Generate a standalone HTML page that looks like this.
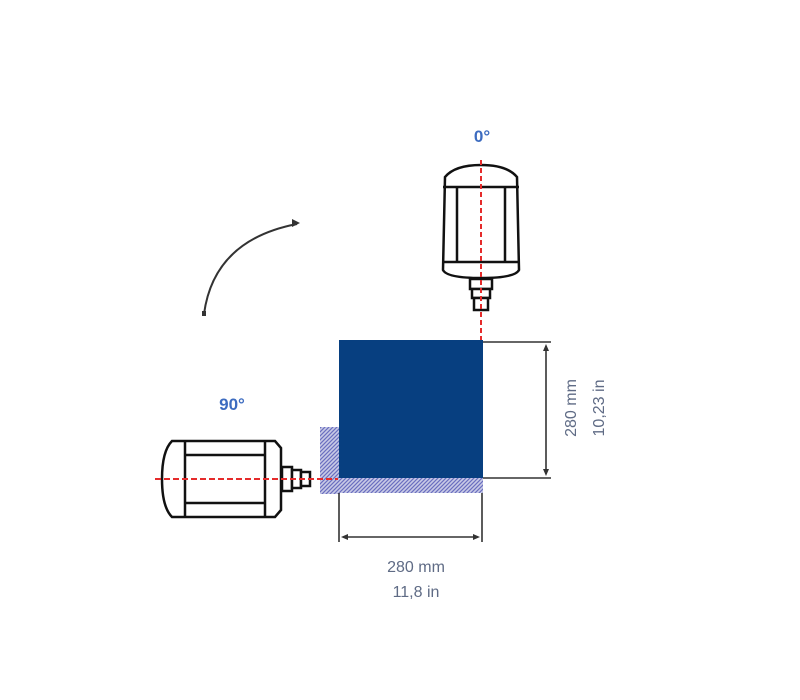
<!DOCTYPE html>
<html><head><style>
body{margin:0;background:#fff;}
svg{display:block;}
</style></head><body>
<svg width="800" height="700" viewBox="0 0 800 700" xmlns="http://www.w3.org/2000/svg" font-family="Liberation Sans, sans-serif">
<defs>
<pattern id="h" width="4" height="4" patternUnits="userSpaceOnUse">
<rect width="4" height="4" fill="#c9cbe6"/>
<path d="M0 4L4 0M-1 1L1 -1M3 5L5 3" stroke="#6a6ec0" stroke-width="1.2"/>
</pattern>
</defs>
<rect x="320" y="427" width="20" height="67" fill="url(#h)"/>
<rect x="339" y="478" width="144" height="15" fill="url(#h)"/>
<rect x="339" y="340" width="144" height="138" fill="#073f80"/>
<g stroke="#333" stroke-width="1.6" fill="none">
<line x1="483" y1="342" x2="551" y2="342"/>
<line x1="483" y1="478" x2="551" y2="478"/>
<line x1="546" y1="346" x2="546" y2="474"/>
<line x1="339" y1="493" x2="339" y2="542"/>
<line x1="482" y1="493" x2="482" y2="542"/>
<line x1="343" y1="537" x2="478" y2="537"/>
<path d="M204 314 Q214 240 297 224" stroke-width="2"/>
</g>
<g fill="#333">
<path d="M546 344l-3 7h6z"/><path d="M546 476l-3 -7h6z"/>
<path d="M341 537l7 -3v6z"/><path d="M480 537l-7 -3v6z"/>
<path d="M300 223l-8 -4v8z"/>
<rect x="202" y="311" width="4" height="5"/>
</g>
<g stroke="#111" stroke-width="2.5" fill="#fff">
<path d="M445 177 Q455 165 481 165 Q507 165 517 177 L519 270 Q515 278 481 278 Q447 278 443 270 Z"/>
<line x1="443" y1="187" x2="519" y2="187"/>
<line x1="443" y1="262" x2="519" y2="262"/>
<line x1="457" y1="187" x2="457" y2="262"/>
<line x1="505" y1="187" x2="505" y2="262"/>
<rect x="470" y="279" width="22" height="10"/>
<rect x="472" y="289" width="18" height="9"/>
<rect x="474" y="298" width="14" height="12"/>
</g>
<line x1="481" y1="160" x2="481" y2="340" stroke="#e52b2b" stroke-width="2" stroke-dasharray="5,3"/>
<g stroke="#111" stroke-width="2.5" fill="#fff">
<path d="M172 441 Q162 451 162 479 Q162 507 172 517 L275 517 L281 510 L281 448 L275 441 Z"/>
<line x1="185" y1="441" x2="185" y2="517"/>
<line x1="265" y1="441" x2="265" y2="517"/>
<line x1="185" y1="455" x2="265" y2="455"/>
<line x1="185" y1="503" x2="265" y2="503"/>
<rect x="282" y="467" width="10" height="24"/>
<rect x="292" y="470" width="9" height="18"/>
<rect x="301" y="472" width="9" height="14"/>
</g>
<line x1="155" y1="479" x2="338" y2="479" stroke="#e52b2b" stroke-width="2" stroke-dasharray="6,3"/>
<text x="482" y="142" font-size="17" font-weight="bold" fill="#3d6cc0" text-anchor="middle">0°</text>
<text x="232" y="410" font-size="17" font-weight="bold" fill="#3d6cc0" text-anchor="middle">90°</text>
<text x="416" y="572" font-size="16" fill="#5f6b85" text-anchor="middle">280 mm</text>
<text x="416" y="597" font-size="16" fill="#5f6b85" text-anchor="middle">11,8 in</text>
<text transform="translate(576,408) rotate(-90)" font-size="16" fill="#5f6b85" text-anchor="middle">280 mm</text>
<text transform="translate(604,408) rotate(-90)" font-size="16" fill="#5f6b85" text-anchor="middle">10,23 in</text>
</svg>
</body></html>
